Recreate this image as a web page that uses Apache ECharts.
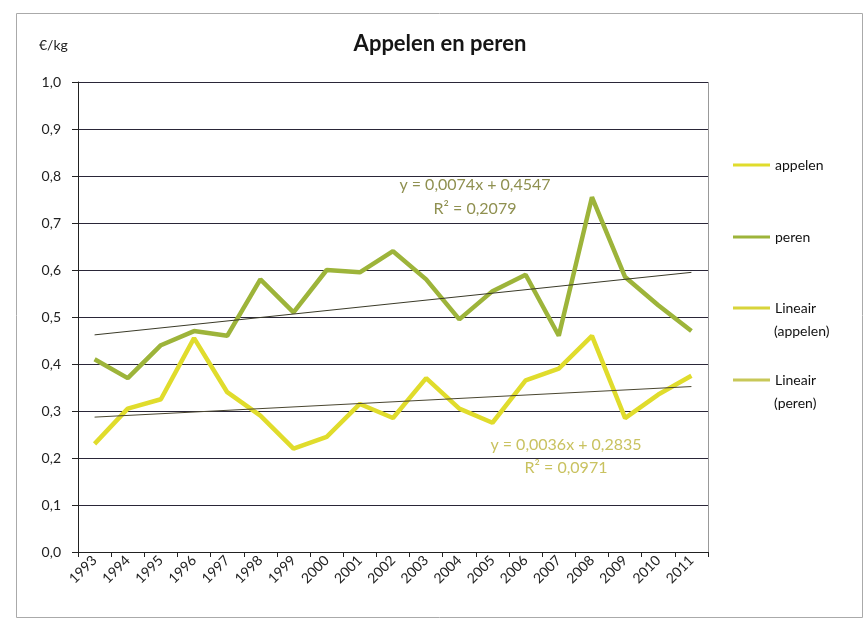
<!DOCTYPE html>
<html>
<head>
<meta charset="utf-8">
<script src="https://cdn.jsdelivr.net/npm/echarts@6/dist/echarts.min.js"></script>
<style>
  html, body { margin: 0; padding: 0; background: #fff; }
  #chart { width: 867px; height: 620px; }
</style>
</head>
<body>
<div id="chart"></div>
<script>
const years = ['1993', '1994', '1995', '1996', '1997', '1998', '1999', '2000', '2001', '2002',
  '2003', '2004', '2005', '2006', '2007', '2008', '2009', '2010', '2011'];

const appelen = [0.23, 0.305, 0.325, 0.455, 0.34, 0.29, 0.22, 0.245, 0.315, 0.285,
  0.37, 0.305, 0.275, 0.365, 0.39, 0.46, 0.285, 0.335, 0.375];

const peren = [0.41, 0.37, 0.44, 0.47, 0.46, 0.58, 0.51, 0.6, 0.595, 0.64,
  0.58, 0.495, 0.555, 0.59, 0.46, 0.755, 0.585, 0.525, 0.47];

// trendline end points (first and last year), from the equations in the picture
const trendAppelen = [0.287, 0.352];
const trendPeren = [0.462, 0.595];

const eqPeren = ['y = 0,0074x + 0,4547', 'R² = 0,2079'];
const eqAppelen = ['y = 0,0036x + 0,2835', 'R² = 0,0971'];

const yellow = '#e0dc2c';
const olive = '#9db43a';
const font = 'Lato, "Open Sans", sans-serif';

function endsOnly(pair) {
  return years.map((y, i) => (i === 0 ? pair[0] : i === years.length - 1 ? pair[1] : null));
}

const myChart = echarts.init(document.getElementById('chart'));

// one legend per item so each can sit at its own height
function legendItem(name, label, top, color) {
  return {
    orient: 'vertical',
    left: 733,
    top: top,
    padding: 0,
    icon: 'rect',
    itemWidth: 37,
    itemHeight: 3,
    itemGap: 0,
    selectedMode: false,
    data: [{ name: name, itemStyle: { color: color } }],
    formatter: () => label,
    textStyle: {
      fontFamily: font,
      fontSize: 14,
      color: '#111',
      lineHeight: 22,
    },
  };
}

function plainText(text, x, y, size, color, align) {
  return {
    type: 'text',
    x: x,
    y: y,
    style: {
      text: text,
      fontFamily: font,
      fontSize: size,
      fill: color,
      align: align,
      verticalAlign: 'middle',
    },
  };
}

const option = {
  backgroundColor: '#fff',
  textStyle: { fontFamily: font },
  legend: [
    legendItem('appelen', 'appelen', 154, yellow),
    legendItem('peren', 'peren', 226, olive),
    legendItem('Lineair (appelen)', 'Lineair', 297, '#d8d43a'),
    legendItem('Lineair (peren)', 'Lineair', 369, '#c8c858'),
  ],
  grid: {
    left: 78,
    right: 159,
    top: 82,
    bottom: 68,
  },
  xAxis: {
    type: 'category',
    data: years,
    boundaryGap: true,
    axisLine: { lineStyle: { color: '#222', width: 1 } },
    axisTick: { show: true, lineStyle: { color: '#222' }, length: 5 },
    axisLabel: {
      rotate: 45,
      interval: 0,
      fontFamily: font,
      fontSize: 14,
      color: '#222',
      margin: 6,
    },
    splitLine: { show: false },
  },
  yAxis: {
    type: 'value',
    min: 0,
    max: 1,
    interval: 0.1,
    axisLine: { show: true, lineStyle: { color: '#222' } },
    axisTick: { show: true, lineStyle: { color: '#222' }, length: 6 },
    axisLabel: {
      fontFamily: font,
      fontSize: 14,
      color: '#222',
      margin: 17,
      formatter: (v) => v.toFixed(1).replace('.', ','),
    },
    splitLine: { show: true, lineStyle: { color: '#2a2638', width: 1.2 } },
  },
  graphic: [
    {
      type: 'text',
      x: 440,
      y: 44,
      style: {
        text: 'Appelen en peren',
        fontFamily: font,
        fontSize: 22,
        fontWeight: 'bold',
        fill: '#151515',
        align: 'center',
        verticalAlign: 'middle',
      },
    },
    plainText('€/kg', 39, 45, 14, '#222', 'left'),
    plainText('(appelen)', 774, 331, 14, '#111', 'left'),
    plainText('(peren)', 774, 403, 14, '#111', 'left'),
    plainText(eqPeren[0], 475, 185, 16, '#8f9050', 'center'),
    plainText(eqPeren[1], 475, 209, 16, '#8f9050', 'center'),
    plainText(eqAppelen[0], 566, 445, 16, '#c9c260', 'center'),
    plainText(eqAppelen[1], 566, 468, 16, '#c9c260', 'center'),
    {
      type: 'rect',
      left: 708,
      top: 82,
      shape: { width: 1, height: 470 },
      style: { fill: '#999' },
    },
    {
      type: 'rect',
      left: 14,
      top: 11,
      shape: { width: 846, height: 604 },
      style: { fill: 'none', stroke: '#aaa', lineWidth: 1 },
      silent: true,
    },
  ],
  series: [
    {
      name: 'appelen',
      type: 'line',
      data: appelen,
      symbol: 'none',
      color: yellow,
      lineStyle: { width: 4.5, color: yellow },
      z: 3,
    },
    {
      name: 'peren',
      type: 'line',
      data: peren,
      symbol: 'none',
      color: olive,
      lineStyle: { width: 4.5, color: olive },
      z: 3,
    },
    {
      name: 'Lineair (appelen)',
      type: 'line',
      data: endsOnly(trendAppelen),
      connectNulls: true,
      symbol: 'none',
      color: '#d8d43a',
      lineStyle: { width: 1, color: '#4a4630' },
      z: 4,
    },
    {
      name: 'Lineair (peren)',
      type: 'line',
      data: endsOnly(trendPeren),
      connectNulls: true,
      symbol: 'none',
      color: '#c8c858',
      lineStyle: { width: 1, color: '#3a3a28' },
      z: 4,
    },
  ],
};

myChart.setOption(option);
</script>
</body>
</html>
